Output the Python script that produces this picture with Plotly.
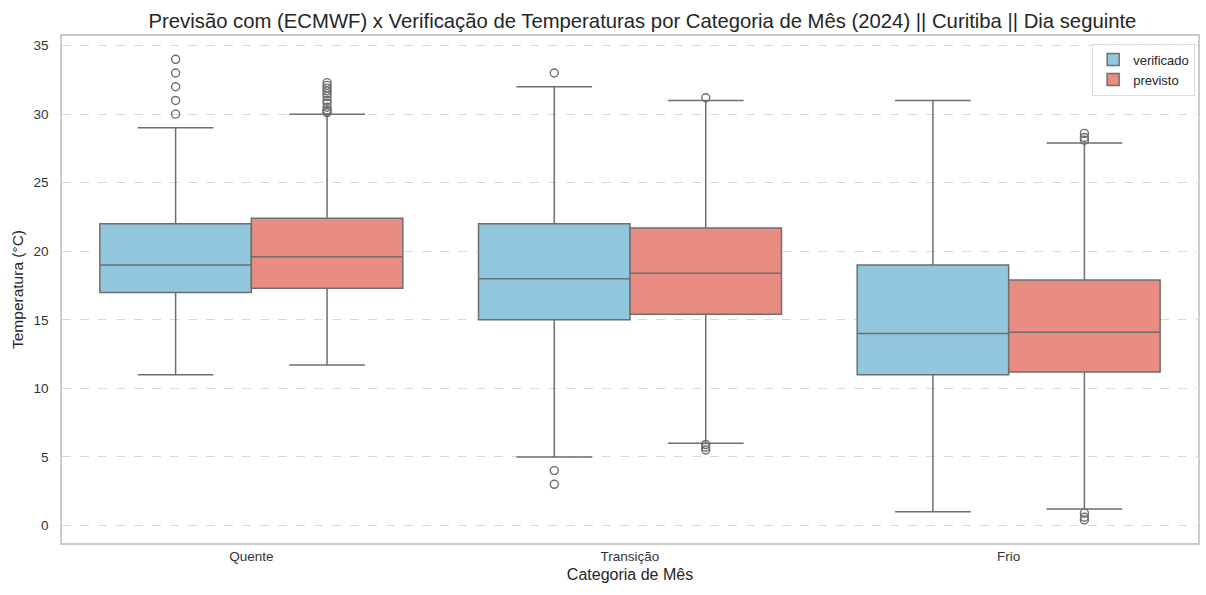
import plotly.graph_objects as go

categories = ["Quente", "Transição", "Frio"]
series_names = ["verificado", "previsto"]

# precomputed box statistics per category
verif_q1 = [17.0, 15.0, 11.0]
verif_med = [19.0, 18.0, 14.0]
verif_q3 = [22.0, 22.0, 19.0]
verif_lo = [11.0, 5.0, 1.0]
verif_hi = [29.0, 32.0, 31.0]
verif_outliers = [
    [30, 31, 32, 33, 34],
    [33, 4, 3],
    [],
]

prev_q1 = [17.3, 15.4, 11.2]
prev_med = [19.6, 18.4, 14.1]
prev_q3 = [22.4, 21.7, 17.9]
prev_lo = [11.7, 6.0, 1.2]
prev_hi = [30.0, 31.0, 27.9]
prev_outliers = [
    [30.1, 30.2, 30.3, 30.5, 30.8, 31.0, 31.3, 31.5, 31.7, 31.9, 32.1, 32.3],
    [31.2, 5.9, 5.7, 5.5],
    [28.1, 28.3, 28.6, 0.9, 0.6, 0.4],
]

colors = ["rgb(145,200,222)", "rgb(233,141,130)"]
line_col = "rgb(110,110,110)"
box_w = 0.4
offsets = [-0.2, 0.2]

fig = go.Figure()
stats = [
    (verif_q1, verif_med, verif_q3, verif_lo, verif_hi, verif_outliers),
    (prev_q1, prev_med, prev_q3, prev_lo, prev_hi, prev_outliers),
]
for s, (q1, med, q3, lo, hi, outl) in enumerate(stats):
    xpos = [i + offsets[s] for i in range(len(categories))]
    fig.add_trace(go.Box(
        x=xpos, q1=q1, median=med, q3=q3, lowerfence=lo, upperfence=hi,
        width=box_w, name=series_names[s], fillcolor=colors[s],
        line=dict(color=line_col, width=1.5), whiskerwidth=0.5,
        boxpoints=False, showlegend=True, hoverinfo="y",
    ))
    ox, oy = [], []
    for i, pts in enumerate(outl):
        for p in pts:
            ox.append(i + offsets[s])
            oy.append(p)
    fig.add_trace(go.Scatter(
        x=ox, y=oy, mode="markers", showlegend=False,
        marker=dict(symbol="circle-open", size=8, color=line_col,
                    line=dict(width=1.4, color=line_col)),
        hoverinfo="y",
    ))

fig.update_layout(
    width=1206, height=595,
    margin=dict(l=62, r=6, t=36, b=52),
    plot_bgcolor="white", paper_bgcolor="white",
    font=dict(family="Liberation Sans, Arial, sans-serif", color="#333333"),
    title=dict(text="Previsão com (ECMWF) x Verificação de Temperaturas por Categoria de Mês (2024) || Curitiba || Dia seguinte",
               xref="paper", x=0.511, xanchor="center", y=0.965, yanchor="middle",
               font=dict(size=20.3, color="#262626")),
    boxmode="overlay",
    legend=dict(x=0.9975, xanchor="right", y=0.985, yanchor="top",
                bordercolor="#dddddd", borderwidth=1, bgcolor="rgba(255,255,255,0.8)",
                font=dict(size=13, color="#262626"), tracegroupgap=2),
    showlegend=True,
)
fig.update_xaxes(
    range=[-0.5, 2.5], tickmode="array", tickvals=list(range(len(categories))),
    ticktext=categories, showgrid=False, zeroline=False,
    showline=True, linecolor="#cccccc", linewidth=1.5, mirror=True,
    tickfont=dict(size=13.5, color="#333333"), ticks="", ticklen=0,
    title=dict(text="Categoria de Mês", font=dict(size=16, color="#262626"), standoff=6),
)
fig.update_yaxes(
    range=[-1.28, 35.7], tickmode="array", tickvals=[0, 5, 10, 15, 20, 25, 30, 35],
    showgrid=True, gridcolor="#d9d9d9", griddash="dash", gridwidth=1,
    zeroline=False, showline=True, linecolor="#cccccc", linewidth=1.5, mirror=True,
    tickfont=dict(size=13.5, color="#333333"), ticks="", ticklabelstandoff=9,
    title=dict(text="Temperatura (°C)", font=dict(size=15.5, color="#262626"), standoff=6),
)

fig.write_html("out.html")
